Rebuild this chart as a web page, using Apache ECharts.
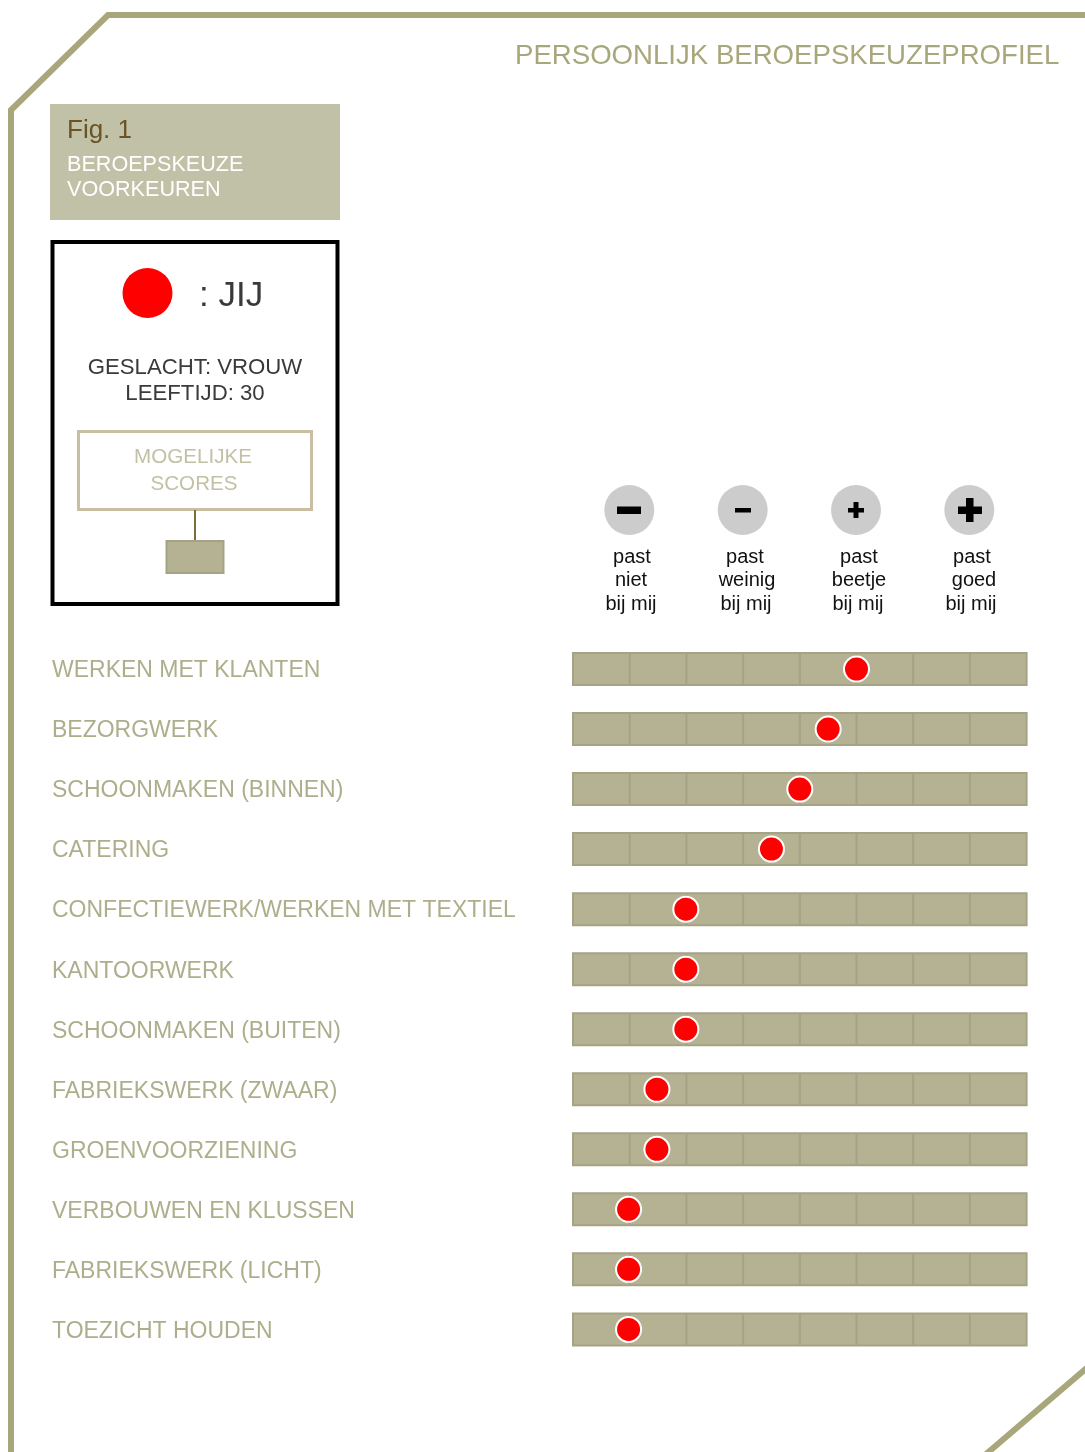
<!DOCTYPE html>
<html>
<head>
<meta charset="utf-8">
<title>Persoonlijk beroepskeuzeprofiel</title>
<script src="https://cdn.jsdelivr.net/npm/echarts@6/dist/echarts.min.js"></script>
<style>
  html, body { margin: 0; padding: 0; background: #fff; }
  #chart { width: 1085px; height: 1452px; }
</style>
</head>
<body>
<div id="chart"></div>
<script>
var categories = [
  'WERKEN MET KLANTEN', 'BEZORGWERK', 'SCHOONMAKEN (BINNEN)', 'CATERING',
  'CONFECTIEWERK/WERKEN MET TEXTIEL', 'KANTOORWERK', 'SCHOONMAKEN (BUITEN)',
  'FABRIEKSWERK (ZWAAR)', 'GROENVOORZIENING', 'VERBOUWEN EN KLUSSEN',
  'FABRIEKSWERK (LICHT)', 'TOEZICHT HOUDEN'
]
var scores = [5, 4.5, 4, 3.5, 1.99, 1.99, 1.99, 1.48, 1.48, 0.98, 0.98, 0.98]
var cellCount = 8
var scaleLabels = [
  ['past', 'niet', 'bij mij'],
  ['past', 'weinig', 'bij mij'],
  ['past', 'beetje', 'bij mij'],
  ['past', 'goed', 'bij mij']
]

var FRAME = '#a8a67b'
var CELL = '#b5b293'
var CELL_LINE = '#a5a385'
var FONT = '"Liberation Sans", Arial, sans-serif'

function text(x, y, str, size, color, align) {
  return {
    type: 'text', x: x, y: y,
    style: { text: str, font: size + 'px ' + FONT, fill: color, textAlign: align || 'center', textVerticalAlign: 'middle' }
  }
}
function box(x, y, w, h, fill) {
  return { type: 'rect', shape: { x: x, y: y, width: w, height: h }, style: { fill: fill } }
}

var graphics = [
  // frame
  { type: 'polyline', shape: { points: [[11, 1452], [11, 110], [108, 15], [1085, 15]] }, style: { stroke: FRAME, lineWidth: 6, fill: null } },
  { type: 'polyline', shape: { points: [[985, 1455], [1088, 1367]] }, style: { stroke: FRAME, lineWidth: 6, fill: null } },
  // figure header
  box(50, 104, 290, 116, '#c1c1a8'),
  text(67, 131, 'Fig. 1', 26, '#6a5426', 'left'),
  text(67, 165, 'BEROEPSKEUZE', 21.6, '#fff', 'left'),
  text(67, 190, 'VOORKEUREN', 21.6, '#fff', 'left'),
  // legend box
  { type: 'rect', shape: { x: 52.5, y: 242, width: 285, height: 362 }, style: { fill: '#fff', stroke: '#000', lineWidth: 4 } },
  { type: 'circle', shape: { cx: 147.5, cy: 293, r: 25 }, style: { fill: '#ff0000' } },
  text(199, 296, ': JIJ', 35, '#3a3a3a', 'left'),
  text(195, 368, 'GESLACHT: VROUW', 22.2, '#3a3a3a'),
  text(195, 394, 'LEEFTIJD: 30', 22.2, '#3a3a3a'),
  { type: 'rect', shape: { x: 78.5, y: 431.5, width: 233, height: 78 }, style: { fill: '#fff', stroke: '#c9bea3', lineWidth: 3 } },
  text(193, 457, 'MOGELIJKE', 20.6, '#c2c1a6'),
  text(194, 484, 'SCORES', 20.6, '#c2c1a6'),
  { type: 'line', shape: { x1: 195, y1: 510, x2: 195, y2: 541 }, style: { stroke: '#7f6a3a', lineWidth: 2 } },
  { type: 'rect', shape: { x: 166.5, y: 541, width: 57, height: 32 }, style: { fill: CELL, stroke: CELL_LINE, lineWidth: 2 } }
]

// scale icons above the bars
var iconX = [629.3, 742.7, 856, 969.3]
iconX.forEach(function (cx) {
  graphics.push({ type: 'circle', shape: { cx: cx, cy: 510, r: 25 }, style: { fill: '#cccccc' } })
})
graphics.push(box(617, 506.5, 24, 7.5, '#000'))
graphics.push(box(735, 508, 16, 4.5, '#000'))
graphics.push(box(848, 508, 16, 4.5, '#000'), box(853.5, 502, 5, 16, '#000'))
graphics.push(box(958, 506.5, 24, 7.5, '#000'), box(966, 498, 7.5, 24, '#000'))

var labelX = [[632, 631, 631], [745, 747, 746], [859, 859, 858], [972, 974, 971]]
var labelY = [557, 580, 604]
scaleLabels.forEach(function (lines, i) {
  lines.forEach(function (line, j) {
    graphics.push(text(labelX[i][j], labelY[j], line, 20, '#111'))
  })
})

// one bar per row, with the cell dividers on it
function renderRow(params, api) {
  var start = api.coord([0, api.value(1)])
  var end = api.coord([cellCount, api.value(1)])
  var children = [{
    type: 'rect',
    shape: { x: start[0], y: start[1] - 16, width: end[0] - start[0], height: 32 },
    style: { fill: CELL, stroke: CELL_LINE, lineWidth: 2 }
  }]
  for (var c = 1; c < cellCount; c++) {
    var x = api.coord([c, api.value(1)])[0]
    children.push({
      type: 'line',
      shape: { x1: x, y1: start[1] - 16, x2: x, y2: start[1] + 16 },
      style: { stroke: CELL_LINE, lineWidth: 2 }
    })
  }
  return { type: 'group', children: children }
}

var chart = echarts.init(document.getElementById('chart'), null, { renderer: 'canvas' })
chart.setOption({
  animation: false,
  backgroundColor: '#fff',
  title: {
    text: 'PERSOONLIJK BEROEPSKEUZEPROFIEL',
    left: 515, top: 42, padding: 0,
    textStyle: { color: FRAME, fontFamily: FONT, fontSize: 27.6, fontWeight: 'normal' }
  },
  grid: { left: 573, top: 639, width: 453.6, height: 720.4 },
  xAxis: { type: 'value', min: 0, max: cellCount, interval: 1, show: false },
  yAxis: {
    type: 'category',
    inverse: true,
    data: categories,
    axisLine: { show: false },
    axisTick: { show: false },
    splitLine: { show: false },
    axisLabel: {
      margin: 521,
      align: 'left',
      formatter: function (value) { return '{row|' + value + '}' },
      rich: {
        row: { color: '#aeae8c', fontFamily: FONT, fontSize: 23, padding: [4, 0, 0, 0] }
      }
    }
  },
  graphic: { elements: graphics },
  series: [
    {
      type: 'custom',
      silent: true,
      renderItem: renderRow,
      encode: { x: 0, y: 1 },
      data: categories.map(function (c, i) { return [cellCount, i] })
    },
    {
      type: 'scatter',
      z: 5,
      symbolSize: 25,
      itemStyle: { color: '#ff0000', borderColor: '#fff', borderWidth: 2, opacity: 1 },
      data: scores.map(function (v, i) { return [v, i] })
    }
  ]
})
</script>
</body>
</html>
